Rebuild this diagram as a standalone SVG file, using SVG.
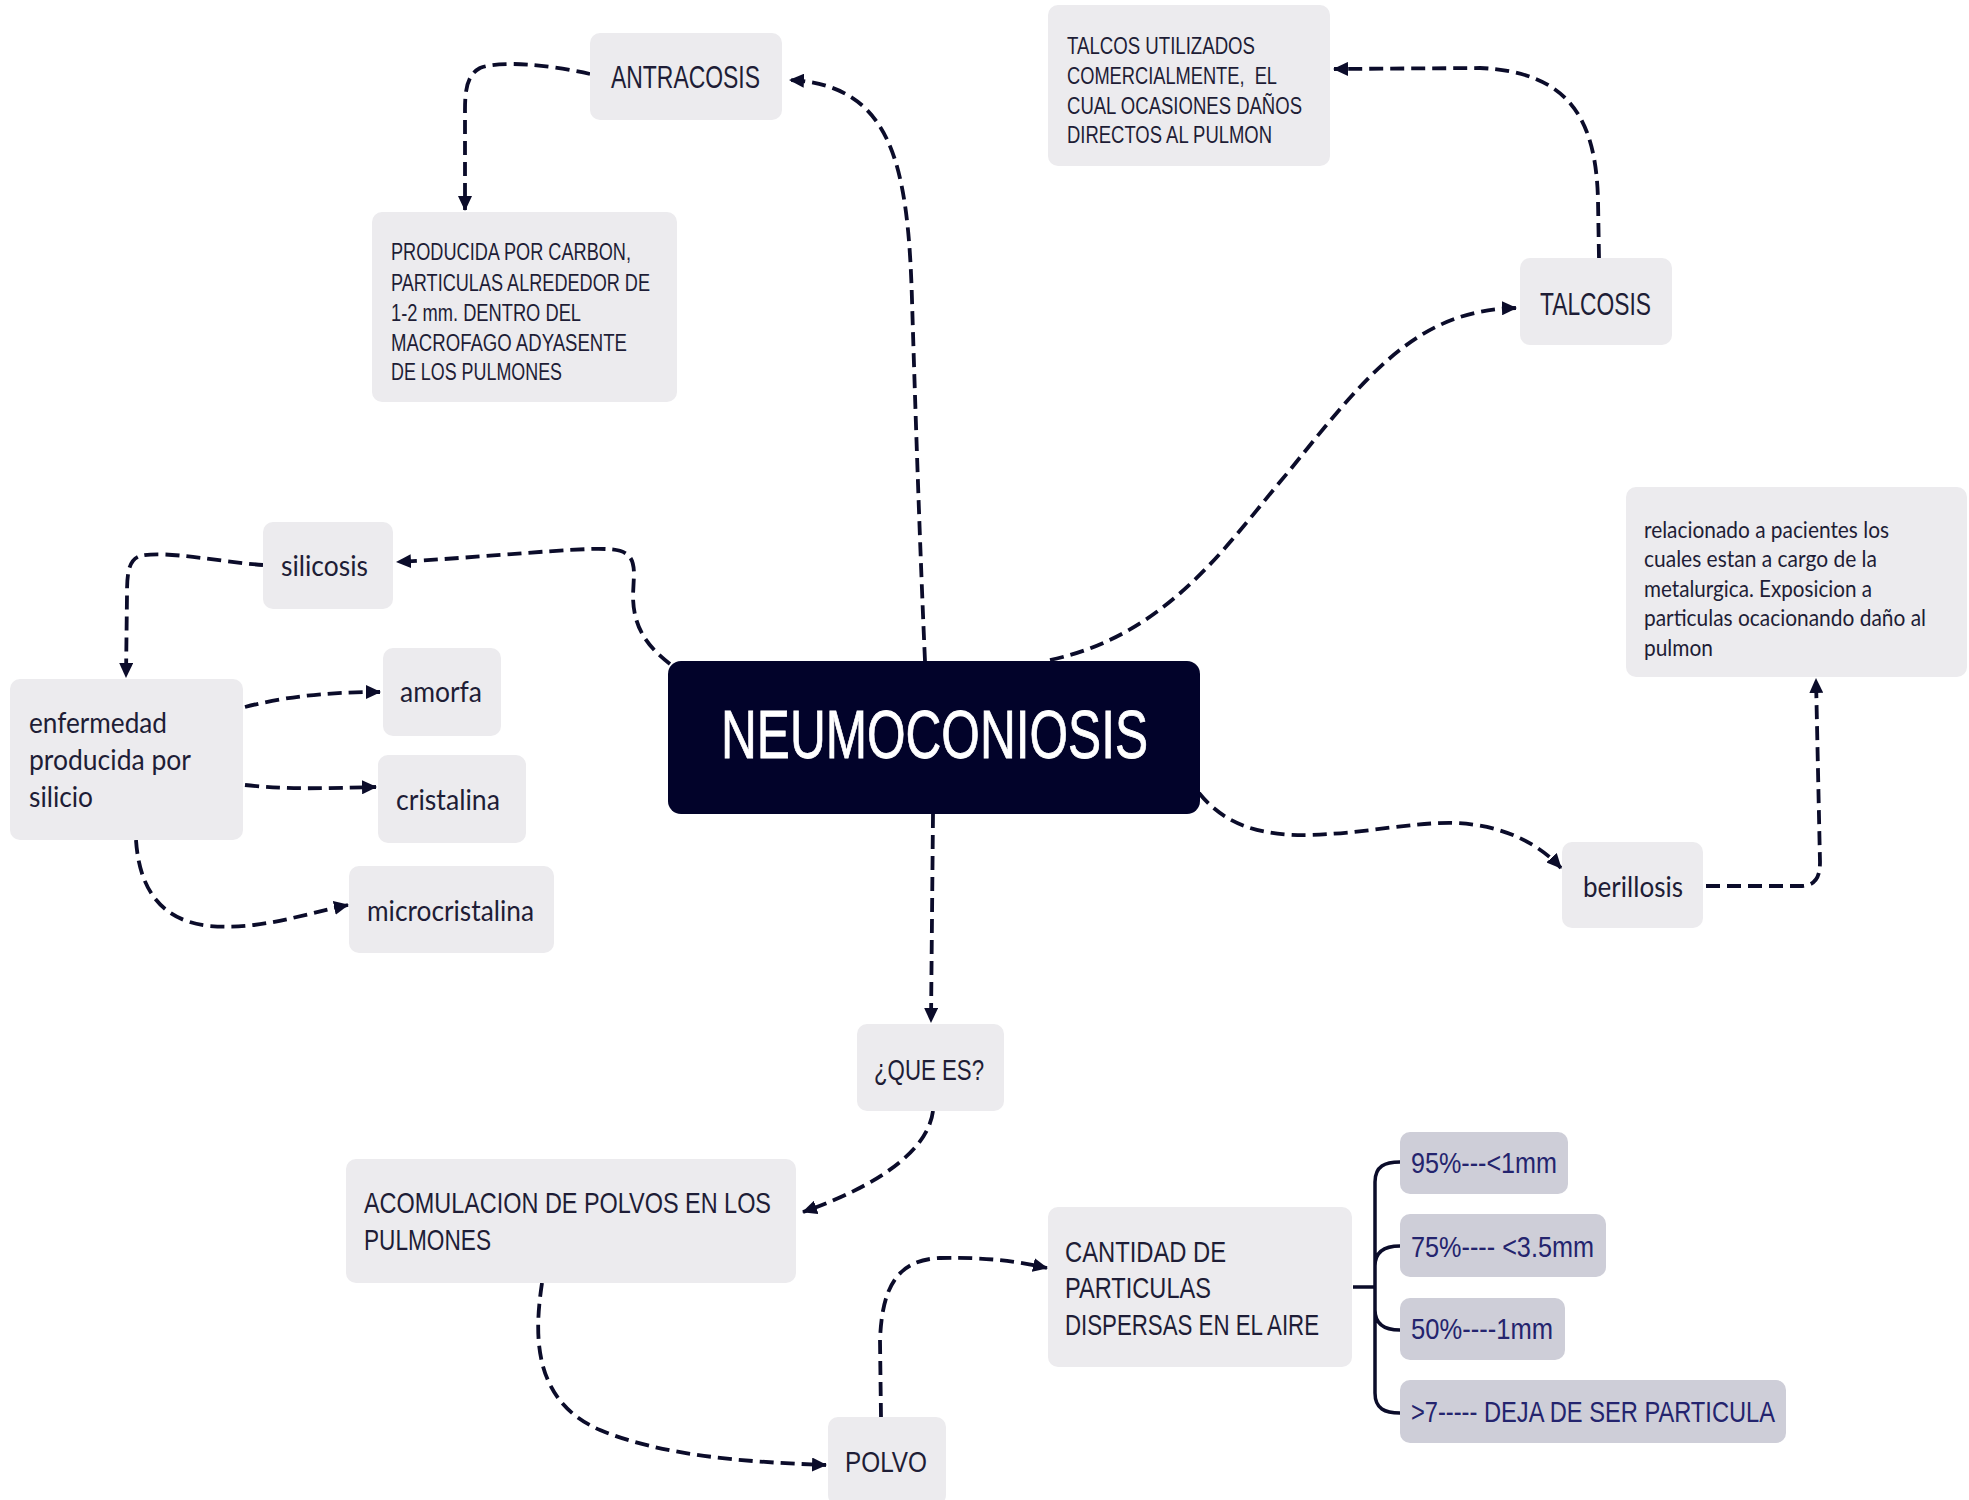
<svg xmlns="http://www.w3.org/2000/svg" width="1969" height="1500" viewBox="0 0 1969 1500">
<style>
.bx{fill:#ECEBEE}
.it{fill:#CECED8}
.t{font-family:"Liberation Sans","Noto Sans",sans-serif;fill:#1E1D36}
.tl{font-family:Lato,"Liberation Sans",sans-serif;fill:#1E1D36}
.ti{font-family:"Liberation Sans","Noto Sans",sans-serif;fill:#24246E}
.c{fill:none;stroke:#0B0C2A;stroke-width:3.8;stroke-dasharray:14 7}
.br{fill:none;stroke:#0B0C2A;stroke-width:3.5}
</style>
<defs>
<marker id="ah" markerUnits="userSpaceOnUse" markerWidth="16" markerHeight="14" refX="14" refY="7" orient="auto">
<path d="M0,0 L15,7 L0,14 z" fill="#0B0C2A"/>
</marker>
</defs>
<rect width="1969" height="1500" fill="#FFFFFF"/>

<g id="connectors">
<path class="c" marker-end="url(#ah)" d="M925,661 C 920,550 915,400 912,300 C 908,160 890,85 790,80"/>
<path class="c" marker-end="url(#ah)" d="M590,74 C 550,65 500,60 480,68 C 467,75 465,90 465,110 L465,210"/>
<path class="c" marker-end="url(#ah)" d="M1050,660 C 1170,635 1230,540 1290,470 C 1370,370 1420,310 1516,308"/>
<path class="c" marker-end="url(#ah)" d="M1599,258 L1598,200 C 1596,120 1570,72 1480,68 L1334,69"/>
<path class="c" marker-end="url(#ah)" d="M670,664 C 645,645 633,625 633,595 L634,575 C 634,552 625,548 590,549 C 540,551 470,558 397,562"/>
<path class="c" marker-end="url(#ah)" d="M263,565 C 220,562 165,550 140,556 C 128,560 127,575 127,595 L126,677"/>
<path class="c" marker-end="url(#ah)" d="M245,707 C 280,698 320,692 380,692"/>
<path class="c" marker-end="url(#ah)" d="M245,785 C 290,790 330,788 376,787"/>
<path class="c" marker-end="url(#ah)" d="M136,840 C 138,870 148,920 210,926 C 260,930 300,915 348,905"/>
<path class="c" marker-end="url(#ah)" d="M933,814 L931,1022"/>
<path class="c" marker-end="url(#ah)" d="M933,1111 C 928,1150 880,1185 803,1212"/>
<path class="c" marker-end="url(#ah)" d="M542,1283 C 535,1330 530,1400 600,1430 C 660,1455 740,1462 826,1465"/>
<path class="c" marker-end="url(#ah)" d="M881,1417 L880,1340 C 882,1290 895,1260 940,1258 C 990,1257 1020,1262 1047,1268"/>
<path class="c" marker-end="url(#ah)" d="M1199,793 C 1225,825 1260,836 1310,835 C 1370,833 1410,822 1455,823 C 1505,825 1540,845 1561,868"/>
<path class="c" marker-end="url(#ah)" d="M1706,886 L1800,886 C 1815,886 1820,878 1820,862 L1816,679"/>
<path class="br" d="M1353,1287 L1375,1287 M1400,1162 C 1385,1162 1375,1166 1375,1182 L1375,1393 C 1375,1409 1385,1413 1400,1413 M1375,1266 C 1375,1251 1385,1246 1400,1246 M1375,1310 C 1375,1325 1385,1330 1400,1330"/>
</g>

<g id="n-neumo">
<rect x="668" y="661" width="532" height="153" rx="13" fill="#02032A"/>
<text x="721" y="758" font-size="68" textLength="427" lengthAdjust="spacingAndGlyphs" font-family="Liberation Sans,sans-serif" fill="#FFFFFF" stroke="#FFFFFF" stroke-width="0.8">NEUMOCONIOSIS</text>
</g>

<g id="n-antracosis">
<rect class="bx" x="590" y="33" width="192" height="87" rx="10"/>
<text class="t" x="611" y="88" font-size="31" textLength="149" lengthAdjust="spacingAndGlyphs">ANTRACOSIS</text>
</g>

<g id="n-producida">
<rect class="bx" x="372" y="212" width="305" height="190" rx="10"/>
<text class="t" x="391" y="260" font-size="23" textLength="240" lengthAdjust="spacingAndGlyphs">PRODUCIDA POR CARBON,</text>
<text class="t" x="391" y="291" font-size="23" textLength="259" lengthAdjust="spacingAndGlyphs">PARTICULAS ALREDEDOR DE</text>
<text class="t" x="391" y="321" font-size="23" textLength="190" lengthAdjust="spacingAndGlyphs">1-2 mm. DENTRO DEL</text>
<text class="t" x="391" y="351" font-size="23" textLength="236" lengthAdjust="spacingAndGlyphs">MACROFAGO ADYASENTE</text>
<text class="t" x="391" y="380" font-size="23" textLength="171" lengthAdjust="spacingAndGlyphs">DE LOS PULMONES</text>
</g>

<g id="n-talcos">
<rect class="bx" x="1048" y="5" width="282" height="161" rx="10"/>
<text class="t" x="1067" y="54" font-size="24" textLength="188" lengthAdjust="spacingAndGlyphs">TALCOS UTILIZADOS</text>
<text class="t" x="1067" y="84" font-size="24" textLength="210" lengthAdjust="spacingAndGlyphs" xml:space="preserve">COMERCIALMENTE,  EL</text>
<text class="t" x="1067" y="114" font-size="24" textLength="235" lengthAdjust="spacingAndGlyphs">CUAL OCASIONES DAÑOS</text>
<text class="t" x="1067" y="143" font-size="24" textLength="205" lengthAdjust="spacingAndGlyphs">DIRECTOS AL PULMON</text>
</g>

<g id="n-talcosis">
<rect class="bx" x="1520" y="258" width="152" height="87" rx="10"/>
<text class="t" x="1540" y="315" font-size="31" textLength="111" lengthAdjust="spacingAndGlyphs">TALCOSIS</text>
</g>

<g id="n-relacionado">
<rect class="bx" x="1626" y="487" width="341" height="190" rx="10"/>
<text class="tl" x="1644" y="538" font-size="23" textLength="245" lengthAdjust="spacingAndGlyphs">relacionado a pacientes los</text>
<text class="tl" x="1644" y="567" font-size="23" textLength="233" lengthAdjust="spacingAndGlyphs">cuales estan a cargo de la</text>
<text class="tl" x="1644" y="597" font-size="23" textLength="228" lengthAdjust="spacingAndGlyphs">metalurgica. Exposicion a</text>
<text class="tl" x="1644" y="626" font-size="23" textLength="282" lengthAdjust="spacingAndGlyphs">particulas ocacionando daño al</text>
<text class="tl" x="1644" y="656" font-size="23" textLength="69" lengthAdjust="spacingAndGlyphs">pulmon</text>
</g>

<g id="n-berillosis">
<rect class="bx" x="1562" y="842" width="141" height="86" rx="10"/>
<text class="tl" x="1583" y="897" font-size="29" textLength="100" lengthAdjust="spacingAndGlyphs">berillosis</text>
</g>

<g id="n-silicosis">
<rect class="bx" x="263" y="522" width="130" height="87" rx="10"/>
<text class="tl" x="281" y="576" font-size="29" textLength="87" lengthAdjust="spacingAndGlyphs">silicosis</text>
</g>

<g id="n-enfermedad">
<rect class="bx" x="10" y="679" width="233" height="161" rx="10"/>
<text class="tl" x="29" y="733" font-size="29" textLength="138" lengthAdjust="spacingAndGlyphs">enfermedad</text>
<text class="tl" x="29" y="770" font-size="29" textLength="162" lengthAdjust="spacingAndGlyphs">producida por</text>
<text class="tl" x="29" y="807" font-size="29" textLength="64" lengthAdjust="spacingAndGlyphs">silicio</text>
</g>

<g id="n-amorfa">
<rect class="bx" x="383" y="648" width="118" height="88" rx="10"/>
<text class="tl" x="400" y="702" font-size="29" textLength="82" lengthAdjust="spacingAndGlyphs">amorfa</text>
</g>

<g id="n-cristalina">
<rect class="bx" x="378" y="755" width="148" height="88" rx="10"/>
<text class="tl" x="396" y="810" font-size="29" textLength="104" lengthAdjust="spacingAndGlyphs">cristalina</text>
</g>

<g id="n-microcristalina">
<rect class="bx" x="349" y="866" width="205" height="87" rx="10"/>
<text class="tl" x="367" y="921" font-size="29" textLength="167" lengthAdjust="spacingAndGlyphs">microcristalina</text>
</g>

<g id="n-quees">
<rect class="bx" x="857" y="1024" width="147" height="87" rx="10"/>
<text class="t" x="874" y="1080" font-size="30" textLength="110" lengthAdjust="spacingAndGlyphs">¿QUE ES?</text>
</g>

<g id="n-acomulacion">
<rect class="bx" x="346" y="1159" width="450" height="124" rx="10"/>
<text class="t" x="364" y="1213" font-size="30" textLength="407" lengthAdjust="spacingAndGlyphs">ACOMULACION DE POLVOS EN LOS</text>
<text class="t" x="364" y="1250" font-size="30" textLength="127" lengthAdjust="spacingAndGlyphs">PULMONES</text>
</g>

<g id="n-polvo">
<rect class="bx" x="828" y="1417" width="118" height="88" rx="10"/>
<text class="t" x="845" y="1472" font-size="30" textLength="82" lengthAdjust="spacingAndGlyphs">POLVO</text>
</g>

<g id="n-cantidad">
<rect class="bx" x="1048" y="1207" width="304" height="160" rx="10"/>
<text class="t" x="1065" y="1262" font-size="30" textLength="161" lengthAdjust="spacingAndGlyphs">CANTIDAD DE</text>
<text class="t" x="1065" y="1298" font-size="30" textLength="146" lengthAdjust="spacingAndGlyphs">PARTICULAS</text>
<text class="t" x="1065" y="1335" font-size="30" textLength="254" lengthAdjust="spacingAndGlyphs">DISPERSAS EN EL AIRE</text>
</g>

<g id="n-95">
<rect class="it" x="1400" y="1132" width="168" height="62" rx="10"/>
<text class="ti" x="1411" y="1173" font-size="30" textLength="146" lengthAdjust="spacingAndGlyphs">95%---&lt;1mm</text>
</g>
<g id="n-75">
<rect class="it" x="1400" y="1214" width="206" height="63" rx="10"/>
<text class="ti" x="1411" y="1257" font-size="30" textLength="183" lengthAdjust="spacingAndGlyphs">75%---- &lt;3.5mm</text>
</g>
<g id="n-50">
<rect class="it" x="1400" y="1298" width="165" height="62" rx="10"/>
<text class="ti" x="1411" y="1339" font-size="30" textLength="142" lengthAdjust="spacingAndGlyphs">50%----1mm</text>
</g>
<g id="n-7">
<rect class="it" x="1400" y="1380" width="386" height="63" rx="10"/>
<text class="ti" x="1411" y="1422" font-size="30" textLength="364" lengthAdjust="spacingAndGlyphs">&gt;7----- DEJA DE SER PARTICULA</text>
</g>
</svg>
